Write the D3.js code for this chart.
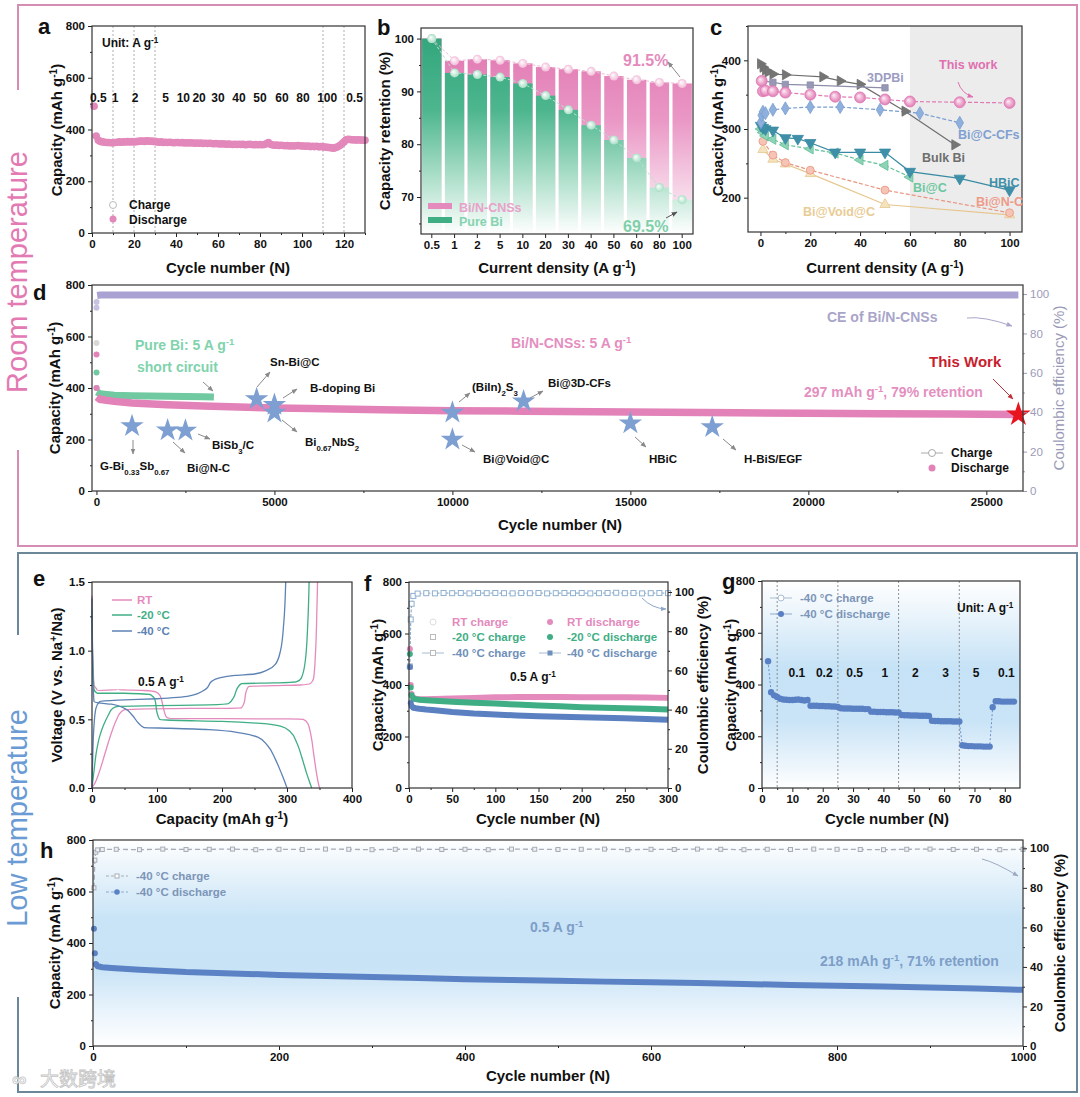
<!DOCTYPE html>
<html lang="en">
<head>
<meta charset="UTF-8">
<title>Bi/N-CNSs rate and cycling</title>
<script src="https://d3js.org/d3.v7.min.js"></script>
<style>
body { margin: 0; background: #fff; }
svg { font-family: "Liberation Sans", Arial, sans-serif; }
.tick text { font-size: 11.5px; font-weight: bold; fill: #111; font-family: "Liberation Sans", Arial, sans-serif; }
.tick line { stroke: #222; }
</style>
</head>
<body>
<script>
// ---------------- data ----------------
// a: rate test, room temperature
var aRates = ["0.5", "1", "2", "5", "10", "20", "30", "40", "50", "60", "80", "100", "0.5"];
var aRatePos = [3, 11, 20.5, 35, 43.5, 51, 60, 70, 80, 90.5, 100.5, 112, 125];
var aSwitch = [10, 20, 30, 110, 120];
var aDischarge = [
  490, 375, 358, 354, 352, 351, 350, 350, 349, 349,
  350, 351, 352, 351, 352, 352, 353, 352, 353, 352,
  353, 354, 355, 355, 354, 356, 355, 355, 354, 354,
  352, 351, 352, 350, 351, 350, 351, 350, 349, 350,
  350, 349, 350, 348, 349, 348, 349, 348, 347, 348,
  347, 348, 346, 347, 346, 347, 346, 345, 346, 345,
  344, 345, 344, 343, 344, 343, 342, 343, 342, 343,
  342, 343, 341, 342, 343, 342, 341, 342, 341, 342,
  341, 342, 345, 350, 343, 340, 339, 340, 338, 339,
  338, 337, 338, 336, 337, 336, 337, 338, 337, 336,
  336, 335, 336, 334, 335, 334, 335, 333, 334, 333,
  332, 331, 330, 329, 328, 330, 333, 338, 345, 352,
  360, 362, 361, 360, 360, 359, 360, 359, 359, 358];
var aXTicks = [0, 20, 40, 60, 80, 100, 120];
var capTicks = [0, 200, 400, 600, 800];

// b: capacity retention
var bRates = ["0.5", "1", "2", "5", "10", "20", "30", "40", "50", "60", "80", "100"];
var bBiN = [100, 95.8, 96.1, 95.9, 95.3, 94.6, 94.2, 93.8, 92.9, 92.2, 91.7, 91.5];
var bPure = [100, 93.5, 93.2, 92.7, 91.5, 89.2, 86.5, 83.6, 80.8, 77.4, 71.8, 69.5];
var bYTicks = [70, 80, 90, 100];

// c: comparison with reported Bi anodes
var cThisWork = [[0.5, 370], [1, 355], [2, 356], [5, 355], [10, 353], [20, 350], [30, 347], [40, 346], [50, 343], [60, 340], [80, 339], [100, 338]];
var c3DPBi = [[1, 370], [5, 368], [10, 365], [20, 364], [50, 360]];
var cBulkBi = [[0, 395], [1, 390], [2, 386], [3, 383], [5, 380], [10, 379], [25, 376], [32, 370], [40, 365], [58, 326], [78, 277]];
var cBiCCFs = [[0.2, 310], [0.5, 320], [1, 325], [2, 323], [5, 328], [10, 330], [20, 332], [32, 332], [48, 328], [64, 323], [80, 309]];
var cHBiC = [[0.2, 305], [1, 302], [2, 300], [5, 298], [10, 287], [15, 286], [20, 280], [30, 266], [40, 266], [50, 266], [60, 238], [80, 228], [100, 211]];
var cBiC = [[0.2, 300], [1, 295], [2, 290], [5, 285], [10, 277], [20, 271], [30, 265], [40, 255], [50, 247], [60, 230]];
var cBiNC = [[1, 282], [5, 262], [10, 251], [20, 240], [50, 211], [100, 178]];
var cVoid = [[1, 270], [5, 256], [10, 249], [20, 235], [50, 190], [100, 175]];
var cXTicks = [0, 20, 40, 60, 80, 100];
var cYTicks = [200, 300, 400];

// d: long cycling at 5 A/g
var dCycle = [1, 3, 10, 100, 500, 1000, 2000, 3000, 4000, 5000, 6000, 8000, 10000, 12000, 14000, 16000, 18000, 20000, 22000, 24000, 25900];
var dBiN = [530, 400, 365, 356, 348, 342, 335, 330, 326, 322, 320, 316, 312, 310, 308, 306, 304, 302, 300, 299, 297];
var dPureCycle = [1, 3, 10, 100, 500, 1000, 2000, 3000, 3300];
var dPure = [460, 400, 385, 378, 372, 370, 368, 366, 365];
var dCECycle = [1, 3, 20, 100, 5000, 10000, 15000, 20000, 25900];
var dCE = [93, 96, 99.3, 99.5, 99.5, 99.5, 99.5, 99.5, 99.5];
var dCharge1 = 575;
var dStarNames = ["G-Bi_{0.33}Sb_{0.67}", "Bi@N-C", "BiSb_{3}/C", "Sn-Bi@C", "B-doping Bi", "Bi_{0.67}NbS_{2}", "(BiIn)_{2}S_{3}", "Bi@Void@C", "Bi@3D-CFs", "HBiC", "H-BiS/EGF"];
var dStarCycle = [1000, 2000, 2500, 4500, 5000, 5000, 10000, 10000, 12000, 15000, 17300];
var dStarCap = [252, 236, 235, 357, 335, 305, 305, 200, 348, 263, 248];
var dXTicks = [0, 5000, 10000, 15000, 20000, 25000];
var ceTicks = [0, 20, 40, 60, 80, 100];

// e: charge/discharge profiles [capacity, voltage]
var eRTCharge = [[0, 0], [5, 0.04], [10, 0.1], [18, 0.22], [25, 0.33], [32, 0.43], [38, 0.5], [44, 0.55], [50, 0.57], [70, 0.575], [150, 0.58], [200, 0.58], [230, 0.585], [234, 0.62], [237, 0.7], [241, 0.74], [280, 0.745], [320, 0.75], [336, 0.76], [341, 0.8], [344, 1.0], [346, 1.3], [347, 1.5]];
var eRTDischarge = [[0, 1.4], [1, 1.0], [3, 0.75], [8, 0.71], [40, 0.715], [80, 0.71], [98, 0.7], [105, 0.67], [110, 0.58], [114, 0.52], [120, 0.505], [200, 0.505], [300, 0.503], [325, 0.5], [332, 0.47], [337, 0.38], [341, 0.25], [345, 0.12], [348, 0.04], [350, 0]];
var e20Charge = [[0, 0], [3, 0.12], [7, 0.27], [12, 0.38], [18, 0.46], [25, 0.53], [32, 0.58], [40, 0.595], [100, 0.6], [180, 0.605], [210, 0.615], [218, 0.66], [224, 0.73], [230, 0.76], [280, 0.765], [315, 0.775], [322, 0.8], [328, 0.92], [332, 1.2], [334, 1.5]];
var e20Discharge = [[0, 1.3], [1, 0.95], [3, 0.72], [8, 0.69], [50, 0.69], [90, 0.68], [97, 0.64], [100, 0.55], [104, 0.5], [115, 0.495], [200, 0.485], [260, 0.47], [290, 0.45], [305, 0.41], [315, 0.33], [323, 0.22], [330, 0.11], [335, 0.04], [338, 0]];
var e40Charge = [[0, 0], [1, 0.2], [3, 0.45], [6, 0.58], [12, 0.63], [40, 0.64], [100, 0.65], [150, 0.67], [175, 0.72], [185, 0.78], [195, 0.8], [220, 0.82], [250, 0.83], [270, 0.86], [282, 0.9], [290, 1.0], [295, 1.2], [298, 1.5]];
var e40Discharge = [[0, 1.38], [1, 0.9], [3, 0.63], [10, 0.62], [30, 0.61], [50, 0.58], [62, 0.53], [72, 0.47], [80, 0.44], [120, 0.435], [180, 0.425], [230, 0.4], [255, 0.37], [270, 0.31], [282, 0.21], [292, 0.1], [297, 0.04], [300, 0]];
var eXTicks = [0, 100, 200, 300, 400];
var eYTicks = [0, 0.5, 1.0, 1.5];

// f: cycling at 0.5 A/g, three temperatures
var fCycle = [1, 2, 3, 5, 8, 12, 20, 30, 50, 75, 100, 125, 150, 175, 200, 225, 250, 275, 300];
var fRT = [540, 400, 365, 350, 346, 345, 345, 346, 348, 350, 352, 353, 353, 353, 352, 352, 352, 351, 350];
var fM20 = [520, 390, 360, 348, 345, 343, 341, 339, 335, 331, 328, 324, 320, 317, 314, 312, 310, 308, 305];
var fM40 = [470, 330, 318, 312, 310, 308, 305, 302, 295, 289, 285, 282, 279, 277, 275, 273, 271, 268, 265];
var fCECycle = [1, 2, 3, 5, 10, 20, 30, 40, 50, 60, 70, 80, 90, 100, 110, 120, 130, 140, 150, 160, 170, 180, 190, 200, 210, 220, 230, 240, 250, 260, 270, 280, 290, 300];
var fCE = [62, 86, 94, 98, 99.2, 99.4, 99.3, 99.5, 99.4, 99.5, 99.3, 99.5, 99.4, 99.5, 99.4, 99.3, 99.5, 99.4, 99.5, 99.3, 99.4, 99.5, 99.4, 99.5, 99.3, 99.4, 99.5, 99.6, 99.4, 99.5, 99.3, 99.4, 99.5, 99.4];
var fXTicks = [0, 50, 100, 150, 200, 250, 300];

// g: rate test at -40 C (values from cycle 2)
var gStart = 2;
var gDischarge = [
  490, 370, 358, 352, 345, 342, 341, 340, 340, 341, 342, 340, 338, 340,
  318, 318, 318, 317, 317, 316, 316, 315, 315, 313,
  308, 307, 307, 307, 306, 306, 306, 306, 305, 305,
  295, 295, 294, 294, 294, 293, 293, 293, 292, 292,
  282, 281, 281, 280, 280, 280, 279, 279, 279, 278,
  260, 259, 259, 258, 258, 258, 258, 257, 257, 257,
  165, 163, 162, 162, 161, 161, 161, 160, 160, 160,
  312, 335, 335, 334, 334, 334, 334, 334];
var gRates = ["0.1", "0.2", "0.5", "1", "2", "3", "5", "0.1"];
var gRatePos = [11.5, 20.5, 30.5, 40.5, 50.5, 60.5, 70.5, 80.5];
var gSwitch = [5, 25, 45, 65];
var gXTicks = [0, 10, 20, 30, 40, 50, 60, 70, 80];

// h: long cycling at -40 C
var hCycle = [1, 2, 3, 5, 10, 20, 50, 100, 150, 200, 250, 300, 350, 400, 450, 500, 550, 600, 650, 700, 750, 800, 850, 900, 950, 1000];
var hDischarge = [455, 360, 318, 310, 306, 303, 296, 287, 282, 276, 272, 268, 264, 259, 256, 253, 250, 248, 245, 241, 237, 234, 231, 227, 223, 218];
var hCECycle = [1, 2, 3, 5, 10, 25, 50, 75, 100, 125, 150, 175, 200, 225, 250, 275, 300, 325, 350, 375, 400, 425, 450, 475, 500, 525, 550, 575, 600, 625, 650, 675, 700, 725, 750, 775, 800, 825, 850, 875, 900, 925, 950, 975, 1000];
var hCE = [80, 94, 98, 99.2, 99.4, 99.5, 99.3, 99.6, 99.4, 99.5, 99.6, 99.3, 99.5, 99.4, 99.6, 99.5, 99.3, 99.5, 99.6, 99.4, 99.5, 99.3, 99.6, 99.5, 99.4, 99.5, 99.6, 99.3, 99.5, 99.4, 99.6, 99.5, 99.3, 99.5, 99.4, 99.6, 99.5, 99.4, 99.3, 99.5, 99.6, 99.4, 99.5, 99.3, 99.5];
var hXTicks = [0, 200, 400, 600, 800, 1000];

// ---------------- helpers ----------------
var svg = d3.select("body").append("svg").attr("width", 1080).attr("height", 1097);
var defs = svg.append("defs");
var PINK = "#e388bb", GREEN = "#3fae85", BLUE40 = "#5d82b4";

function linGrad(id, stops, y1, y2) {
  var lg = defs.append("linearGradient").attr("id", id).attr("gradientUnits", "userSpaceOnUse")
    .attr("x1", 0).attr("x2", 0).attr("y1", y1).attr("y2", y2);
  stops.forEach(function (s) { lg.append("stop").attr("offset", s[0]).attr("stop-color", s[1]); });
}
function sphere(id, c0, c1) {
  var rg = defs.append("radialGradient").attr("id", id).attr("fx", "35%").attr("fy", "35%");
  rg.append("stop").attr("offset", "0%").attr("stop-color", c0);
  rg.append("stop").attr("offset", "100%").attr("stop-color", c1);
}
sphere("sphPink", "#fff0f7", "#e07ab4");
sphere("sphPinkL", "#ffffff", "#f2bcd9");
sphere("sphGreenL", "#ffffff", "#a7dfc5");

function rich(t, s) {
  s.split(/(\^\{[^}]*\}|_\{[^}]*\})/).forEach(function (p) {
    if (!p) return;
    if (p.slice(0, 2) == "^{") t.append("tspan").attr("baseline-shift", "super").style("font-size", "68%").text(p.slice(2, -1));
    else if (p.slice(0, 2) == "_{") t.append("tspan").attr("baseline-shift", "sub").style("font-size", "68%").text(p.slice(2, -1));
    else t.append("tspan").text(p);
  });
  return t;
}
function txt(x, y, s, o) {
  o = o || {};
  var t = svg.append("text").attr("x", x).attr("y", y)
    .attr("font-size", o.size || 12).attr("font-weight", o.weight || "bold")
    .attr("fill", o.color || "#111").attr("text-anchor", o.anchor || "start");
  if (o.rot) t.attr("transform", "rotate(-90," + x + "," + y + ")");
  return rich(t, s);
}
var heads = {};
function head(c) {
  if (!heads[c]) {
    var id = "ah" + Object.keys(heads).length;
    defs.append("marker").attr("id", id).attr("viewBox", "0 0 10 10").attr("refX", 9).attr("refY", 5)
      .attr("markerWidth", 6).attr("markerHeight", 6).attr("orient", "auto")
      .append("path").attr("d", "M0,1L10,5L0,9z").attr("fill", c);
    heads[c] = id;
  }
  return heads[c];
}
function arrow(x1, y1, x2, y2, c, bend) {
  var d = "M" + x1 + "," + y1 + "L" + x2 + "," + y2;
  if (bend) d = "M" + x1 + "," + y1 + "Q" + ((x1 + x2) / 2 + bend[0]) + "," + ((y1 + y2) / 2 + bend[1]) + " " + x2 + "," + y2;
  svg.append("path").attr("d", d).attr("fill", "none").attr("stroke", c || "#8a8a8a").attr("stroke-width", 1)
    .attr("marker-end", "url(#" + head(c || "#8a8a8a") + ")");
}
function panel(L, T, R, B, xs, ys) {
  return { L: L, T: T, R: R, B: B, x: xs.range([L, R]), y: ys.range([B, T]), g: svg.append("g") };
}
function minor(ticks) {
  var m = [];
  for (var i = 0; i < ticks.length - 1; i++) m.push((ticks[i] + ticks[i + 1]) / 2);
  return m;
}
function axes(p, o) {
  var g = p.g.append("g");
  function put(axis, tr) { var a = g.append("g").attr("transform", tr).call(axis); a.select(".domain").remove(); return a; }
  var bt = "translate(0," + p.B + ")", lt = "translate(" + p.L + ",0)";
  put(d3.axisBottom(p.x).tickValues(o.xt).tickSize(4).tickFormat(o.xf || d3.format("d")), bt);
  if (o.xm) put(d3.axisBottom(p.x).tickValues(o.xm).tickSize(2).tickFormat(""), bt);
  put(d3.axisLeft(p.y).tickValues(o.yt).tickSize(4).tickFormat(o.yf || d3.format("d")), lt);
  if (o.ym) put(d3.axisLeft(p.y).tickValues(o.ym).tickSize(2).tickFormat(""), lt);
  if (o.y2) {
    var rt = "translate(" + p.R + ",0)";
    var a2 = put(d3.axisRight(o.y2).tickValues(ceTicks).tickSize(4).tickFormat(d3.format("d")), rt);
    var a3 = put(d3.axisRight(o.y2).tickValues(minor(ceTicks)).tickSize(2).tickFormat(""), rt);
    if (o.y2c) {
      a2.selectAll("text").style("fill", o.y2c).style("font-weight", "normal");
      a2.selectAll("line").style("stroke", o.y2c); a3.selectAll("line").style("stroke", o.y2c);
    }
  }
  g.append("rect").attr("x", p.L).attr("y", p.T).attr("width", p.R - p.L).attr("height", p.B - p.T)
    .attr("fill", "none").attr("stroke", "#333").attr("stroke-width", 1.2);
}
function lineOf(p, xa, ya, yScale) {
  var ys = yScale || p.y;
  return d3.line().x(function (d, i) { return p.x(xa[i]); }).y(function (d) { return ys(d); })(ya);
}

// ---------------- frames ----------------
svg.append("path").attr("d", "M18,90V5H1077V546H18V450").attr("fill", "none").attr("stroke", "#d68db3").attr("stroke-width", 2);
svg.append("path").attr("d", "M18,635V553H1077V1092H18V997").attr("fill", "none").attr("stroke", "#6b8799").attr("stroke-width", 2);
txt(27, 272, "Room temperature", { size: 29, weight: "normal", color: "#e37ab3", anchor: "middle", rot: true });
txt(27, 818, "Low temperature", { size: 29, weight: "normal", color: "#6a9bd4", anchor: "middle", rot: true });

// ---------------- a ----------------
var pa = panel(92, 26, 365, 233, d3.scaleLinear().domain([0, 130]), d3.scaleLinear().domain([0, 800]));
pa.g.selectAll(null).data(aSwitch).enter().append("line")
  .attr("x1", function (d) { return pa.x(d); }).attr("x2", function (d) { return pa.x(d); })
  .attr("y1", pa.T).attr("y2", pa.B).attr("stroke", "#999").attr("stroke-width", 0.8).attr("stroke-dasharray", "2,2");
pa.g.selectAll(null).data(aDischarge).enter().append("circle")
  .attr("cx", function (d, i) { return pa.x(i + 1); }).attr("cy", function (d) { return pa.y(d); })
  .attr("r", 3.8).attr("fill", PINK);
axes(pa, { xt: aXTicks, xm: minor(aXTicks).concat([130]), yt: capTicks, ym: minor(capTicks) });
aRates.forEach(function (r, i) { txt(pa.x(aRatePos[i]), 102, r, { anchor: "middle" }); });
txt(102, 47, "Unit: A g^{-1}");
pa.g.append("circle").attr("cx", 113).attr("cy", 205).attr("r", 3.5).attr("fill", "#fff").attr("stroke", "#bbb");
pa.g.append("circle").attr("cx", 113).attr("cy", 219).attr("r", 3.5).attr("fill", PINK);
txt(129, 209, "Charge"); txt(129, 224, "Discharge");
txt(38, 34, "a", { size: 22 });
txt(62, 130, "Capacity (mAh g^{-1})", { size: 15, anchor: "middle", rot: true });
txt(228, 273, "Cycle number (N)", { size: 15, anchor: "middle" });

// ---------------- b ----------------
var pb = panel(421, 28, 693, 234, d3.scaleBand().domain(bRates).paddingInner(0.15).paddingOuter(0.05), d3.scaleLinear().domain([63, 102]));
linGrad("gPinkBar", [[0, "#df72ae"], [0.45, "#ea98c6"], [0.8, "#f7d8e9"], [1, "#fdf5f9"]], pb.T, pb.B);
linGrad("gGreenBar", [[0, "#2fa47a"], [0.4, "#4db68f"], [0.75, "#b4e2cf"], [1, "#ffffff"]], pb.T, pb.B);
function bars(vals, fill) {
  pb.g.selectAll(null).data(vals).enter().append("rect")
    .attr("x", function (d, i) { return pb.x(bRates[i]); }).attr("width", pb.x.bandwidth())
    .attr("y", function (d) { return pb.y(d); }).attr("height", function (d) { return pb.B - pb.y(d); })
    .attr("fill", fill);
}
bars(bBiN, "url(#gPinkBar)");
bars(bPure, "url(#gGreenBar)");
function bdots(vals, fill, stroke) {
  var cx = function (d, i) { return pb.x(bRates[i]) + pb.x.bandwidth() / 2; };
  pb.g.append("path").attr("d", d3.line().x(cx).y(function (d) { return pb.y(d); })(vals))
    .attr("fill", "none").attr("stroke", stroke).attr("stroke-width", 1).attr("stroke-dasharray", "3,2");
  pb.g.selectAll(null).data(vals).enter().append("circle").attr("cx", cx).attr("cy", function (d) { return pb.y(d); })
    .attr("r", 4.5).attr("fill", fill);
}
bdots(bBiN, "url(#sphPinkL)", "#eeb9d6");
bdots(bPure, "url(#sphGreenL)", "#b6e2cf");
axes(pb, { xt: bRates, xf: function (d) { return d; }, yt: bYTicks, ym: [65, 75, 85, 95] });
pb.g.append("rect").attr("x", 428).attr("y", 203).attr("width", 24).attr("height", 6).attr("fill", "#e48abd");
pb.g.append("rect").attr("x", 428).attr("y", 217).attr("width", 24).attr("height", 6).attr("fill", "#3fae85");
txt(459, 212, "Bi/N-CNSs", { color: "#e8a2c9", size: 12.5 });
txt(459, 226, "Pure Bi", { color: "#86d3b0", size: 12.5 });
txt(623, 66, "91.5%", { color: "#e48abd", size: 16 });
arrow(680, 77, 668, 62, "#8a8a8a");
txt(623, 232, "69.5%", { color: "#7fcfaa", size: 16 });
arrow(666, 218, 677, 212, "#555");
txt(377, 35, "b", { size: 22 });
txt(390, 131, "Capacity retention (%)", { size: 15, anchor: "middle", rot: true });
txt(557, 273, "Current density (A g^{-1})", { size: 15, anchor: "middle" });

// ---------------- c ----------------
var pc = panel(748, 26, 1022, 232, d3.scaleLinear().domain([-5, 105]), d3.scaleLinear().domain([150, 450]));
pc.g.append("rect").attr("x", pc.x(60)).attr("y", pc.T).attr("width", pc.R - pc.x(60)).attr("height", pc.B - pc.T).attr("fill", "#ececec");
var cSeries = [
  { pts: cVoid, color: "#e6c68d", fill: "#f5e3c0", type: d3.symbolTriangle, rot: 0, size: 45, dash: null },
  { pts: cBiNC, color: "#e8957f", fill: "#f6c4b6", type: d3.symbolCircle, rot: 0, size: 50, dash: "4,2" },
  { pts: cBiC, color: "#5fbf98", fill: "#8fd3b6", type: d3.symbolTriangle, rot: -90, size: 45, dash: "4,2" },
  { pts: cHBiC, color: "#3a8aa3", fill: "#3f8fa8", type: d3.symbolTriangle, rot: 180, size: 55, dash: null },
  { pts: cBiCCFs, color: "#7b9fd0", fill: "#8fb0dc", type: d3.symbolDiamond, rot: 0, size: 50, dash: "4,2" },
  { pts: cBulkBi, color: "#6e6e6e", fill: "#757575", type: d3.symbolTriangle, rot: 90, size: 45, dash: null },
  { pts: c3DPBi, color: "#8d8daa", fill: "#9898b6", type: d3.symbolSquare, rot: 0, size: 40, dash: null },
  { pts: cThisWork, color: "#e07ab4", fill: "url(#sphPink)", type: d3.symbolCircle, rot: 0, size: 95, dash: "4,2" }
];
cSeries.forEach(function (s) {
  pc.g.append("path").attr("d", d3.line().x(function (d) { return pc.x(d[0]); }).y(function (d) { return pc.y(d[1]); })(s.pts))
    .attr("fill", "none").attr("stroke", s.color).attr("stroke-width", 1.2).attr("stroke-dasharray", s.dash);
  pc.g.selectAll(null).data(s.pts).enter().append("path")
    .attr("d", d3.symbol().type(s.type).size(s.size)())
    .attr("transform", function (d) { return "translate(" + pc.x(d[0]) + "," + pc.y(d[1]) + ") rotate(" + s.rot + ")"; })
    .attr("fill", s.fill).attr("stroke", s.color).attr("stroke-width", 0.8);
});
axes(pc, { xt: cXTicks, xm: minor(cXTicks), yt: cYTicks, ym: [250, 350, 450] });
txt(867, 82, "3DPBi", { color: "#9c9cc2", size: 12.5 });
txt(939, 69, "This work", { color: "#e070b0", size: 12.5 });
arrow(958, 82, 973, 97, "#e070b0", [-4, 4]);
txt(958, 139, "Bi@C-CFs", { color: "#7fa0d0", size: 12.5 });
txt(922, 162, "Bulk Bi", { color: "#6e6e6e", size: 12.5 });
txt(989, 187, "HBiC", { color: "#3f8fa8", size: 12.5 });
txt(913, 192, "Bi@C", { color: "#6cc8a0", size: 12.5 });
txt(976, 206, "Bi@N-C", { color: "#ee9a88", size: 12.5 });
txt(803, 216, "Bi@Void@C", { color: "#e8cc94", size: 12.5 });
txt(710, 35, "c", { size: 22 });
txt(723, 130, "Capacity (mAh g^{-1})", { size: 15, anchor: "middle", rot: true });
txt(885, 273, "Current density (A g^{-1})", { size: 15, anchor: "middle" });

// ---------------- d ----------------
var pd = panel(92, 285, 1023, 491, d3.scaleLinear().domain([-125, 26030]), d3.scaleLinear().domain([0, 800]));
var dCEy = d3.scaleLinear().domain([0, 104.6]).range([491, 285]);
pd.g.append("path").attr("d", lineOf(pd, dCECycle.slice(2), dCE.slice(2), dCEy)).attr("fill", "none")
  .attr("stroke", "#aaa2d2").attr("stroke-width", 7);
pd.g.selectAll(null).data(dCE.slice(0, 2)).enter().append("circle")
  .attr("cx", function (d, i) { return pd.x(dCECycle[i]); }).attr("cy", function (d) { return dCEy(d); })
  .attr("r", 3).attr("fill", "#c8c2e2");
pd.g.append("circle").attr("cx", pd.x(1)).attr("cy", pd.y(dCharge1)).attr("r", 3).attr("fill", "#d8d8d8");
pd.g.append("path").attr("d", lineOf(pd, dPureCycle.slice(2), dPure.slice(2))).attr("fill", "none")
  .attr("stroke", "#70c9a0").attr("stroke-width", 7);
pd.g.selectAll(null).data(dPure.slice(0, 2)).enter().append("circle")
  .attr("cx", function (d, i) { return pd.x(dPureCycle[i]); }).attr("cy", function (d) { return pd.y(d); })
  .attr("r", 3).attr("fill", "#70c9a0");
pd.g.append("path").attr("d", lineOf(pd, dCycle.slice(2), dBiN.slice(2))).attr("fill", "none")
  .attr("stroke", "#e282b8").attr("stroke-width", 7.5);
pd.g.selectAll(null).data(dBiN.slice(0, 2)).enter().append("circle")
  .attr("cx", function (d, i) { return pd.x(dCycle[i]); }).attr("cy", function (d) { return pd.y(d); })
  .attr("r", 3).attr("fill", "#e282b8");
pd.g.selectAll(null).data(dStarCap).enter().append("path")
  .attr("d", d3.symbol().type(d3.symbolStar).size(170)())
  .attr("transform", function (d, i) { return "translate(" + pd.x(dStarCycle[i]) + "," + pd.y(d) + ")"; })
  .attr("fill", "#7e9fd1");
pd.g.append("path").attr("d", d3.symbol().type(d3.symbolStar).size(190)())
  .attr("transform", "translate(" + pd.x(dCycle[dCycle.length - 1]) + "," + pd.y(dBiN[dBiN.length - 1]) + ")")
  .attr("fill", "#e8141e");
axes(pd, { xt: dXTicks, xm: minor(dXTicks), yt: capTicks, ym: minor(capTicks), y2: dCEy, y2c: "#9b9bb8" });
// star labels: [text x, baseline, arrow x1, y1, x2, y2]
var dStarLayout = [
  [100, 470, 133, 440, 133, 454], [187, 472, 173, 442, 185, 453], [212, 449, 198, 434, 210, 439],
  [270, 366, 257, 387, 270, 372], [310, 392, 283, 398, 297, 389], [305, 446, 282, 420, 297, 432],
  [472, 391, 459, 402, 470, 393], [483, 463, 462, 445, 475, 452], [548, 387, 530, 398, 543, 391],
  [649, 463, 635, 437, 646, 447], [744, 463, 723, 439, 736, 450]];
dStarNames.forEach(function (n, i) {
  var l = dStarLayout[i];
  txt(l[0], l[1], n, { size: 11.5 });
  arrow(l[2], l[3], l[4], l[5], "#8a8a8a");
});
txt(135, 350, "Pure Bi: 5 A g^{-1}", { size: 14, color: "#80d3ac" });
txt(137, 372, "short circuit", { size: 14, color: "#80d3ac" });
arrow(203, 382, 213, 391, "#8a8a8a");
txt(511, 348, "Bi/N-CNSs: 5 A g^{-1}", { size: 14, color: "#e48fc0" });
txt(827, 322, "CE of Bi/N-CNSs", { size: 14, color: "#a9a5c9" });
arrow(967, 318, 1012, 326, "#a9a5c9", [-6, -6]);
txt(929, 367, "This Work", { size: 15, color: "#c81e2e" });
arrow(993, 379, 1013, 399, "#c0303a");
txt(804, 397, "297 mAh g^{-1}, 79% retention", { size: 14, color: "#e48fc0" });
pd.g.append("line").attr("x1", 921).attr("x2", 943).attr("y1", 453).attr("y2", 453).attr("stroke", "#aaa");
pd.g.append("circle").attr("cx", 932).attr("cy", 453).attr("r", 3.5).attr("fill", "#fff").attr("stroke", "#aaa");
pd.g.append("circle").attr("cx", 932).attr("cy", 468).attr("r", 3.5).attr("fill", "#e282b8");
txt(951, 457, "Charge"); txt(951, 472, "Discharge");
txt(33, 300, "d", { size: 22 });
txt(60, 388, "Capacity (mAh g^{-1})", { size: 15, anchor: "middle", rot: true });
txt(1064, 388, "Coulombic efficiency (%)", { size: 15, anchor: "middle", rot: true, weight: "normal", color: "#9b9bb8" });
txt(560, 530, "Cycle number (N)", { size: 15, anchor: "middle" });

// ---------------- e ----------------
var pe = panel(92, 582, 352, 788, d3.scaleLinear().domain([0, 400]), d3.scaleLinear().domain([0, 1.5]));
var eCurves = [[eRTCharge, "#e48abd"], [eRTDischarge, "#e48abd"], [e20Charge, "#3fae85"], [e20Discharge, "#3fae85"], [e40Charge, BLUE40], [e40Discharge, BLUE40]];
eCurves.forEach(function (c) {
  pe.g.append("path").attr("d", d3.line().x(function (d) { return pe.x(d[0]); }).y(function (d) { return pe.y(d[1]); }).curve(d3.curveMonotoneY)(c[0]))
    .attr("fill", "none").attr("stroke", c[1]).attr("stroke-width", 1.3);
});
axes(pe, { xt: eXTicks, xm: minor(eXTicks), yt: eYTicks, ym: minor(eYTicks), yf: d3.format(".1f") });
[["RT", "#e48abd", 600], ["-20 \u00b0C", "#3fae85", 615], ["-40 \u00b0C", BLUE40, 631]].forEach(function (l) {
  pe.g.append("line").attr("x1", 112).attr("x2", 132).attr("y1", l[2]).attr("y2", l[2]).attr("stroke", l[1]).attr("stroke-width", 1.5);
  txt(137, l[2] + 4, l[0], { color: l[1], size: 11.5 });
});
txt(138, 686, "0.5 A g^{-1}", { size: 12 });
txt(33, 586, "e", { size: 22 });
txt(62, 685, "Voltage (V vs. Na^{+}/Na)", { size: 15, anchor: "middle", rot: true });
txt(222, 824, "Capacity (mAh g^{-1})", { size: 15, anchor: "middle" });

// ---------------- f ----------------
var pf = panel(409, 582, 668, 788, d3.scaleLinear().domain([0, 300]), d3.scaleLinear().domain([0, 800]));
var fCEy = d3.scaleLinear().domain([0, 105.1]).range([788, 582]);
pf.g.append("path").attr("d", lineOf(pf, fCECycle, fCE, fCEy)).attr("fill", "none").attr("stroke", "#8fb0cf").attr("stroke-width", 1.2).attr("stroke-dasharray", "3,1.5");
pf.g.selectAll(null).data(fCE).enter().append("rect")
  .attr("x", function (d, i) { return pf.x(fCECycle[i]) - 2.5; }).attr("y", function (d) { return fCEy(d) - 2.5; })
  .attr("width", 5).attr("height", 5).attr("fill", "#fff").attr("stroke", "#8fb0cf");
[[fRT, "#e48abd"], [fM20, "#3fae85"], [fM40, "#5b80c2"]].forEach(function (s) {
  pf.g.append("path").attr("d", lineOf(pf, fCycle.slice(3), s[0].slice(3))).attr("fill", "none").attr("stroke", s[1]).attr("stroke-width", 6);
  pf.g.selectAll(null).data(s[0].slice(0, 4)).enter().append("circle")
    .attr("cx", function (d, i) { return pf.x(fCycle[i]); }).attr("cy", function (d) { return pf.y(d); })
    .attr("r", 3).attr("fill", s[1]);
});
axes(pf, { xt: fXTicks, xm: minor(fXTicks), yt: capTicks, ym: minor(capTicks), y2: fCEy });
var fLeg = [
  ["RT charge", "#e48abd", 433, 452, 622, "oc"], ["RT discharge", "#e48abd", 550, 567, 622, "fc"],
  ["-20 \u00b0C charge", "#3fae85", 433, 452, 637, "os"], ["-20 \u00b0C discharge", "#3fae85", 550, 567, 637, "fc"],
  ["-40 \u00b0C charge", "#6f90b8", 433, 452, 653, "ls"], ["-40 \u00b0C discharge", "#6f90b8", 550, 567, 653, "lf"]];
fLeg.forEach(function (l) {
  if (l[5][0] == "l") pf.g.append("line").attr("x1", l[2] - 11).attr("x2", l[2] + 11).attr("y1", l[4]).attr("y2", l[4]).attr("stroke", "#a8bcd4");
  if (l[5] == "oc") pf.g.append("circle").attr("cx", l[2]).attr("cy", l[4]).attr("r", 3).attr("fill", "#fff").attr("stroke", "#ddd");
  if (l[5] == "fc") pf.g.append("circle").attr("cx", l[2]).attr("cy", l[4]).attr("r", 3).attr("fill", l[1]);
  if (l[5] == "os" || l[5] == "ls") pf.g.append("rect").attr("x", l[2] - 2.5).attr("y", l[4] - 2.5).attr("width", 5).attr("height", 5).attr("fill", "#fff").attr("stroke", "#bbb");
  if (l[5] == "lf") pf.g.append("rect").attr("x", l[2] - 2.5).attr("y", l[4] - 2.5).attr("width", 5).attr("height", 5).attr("fill", l[1]);
  txt(l[3], l[4] + 4, l[0], { color: l[1], size: 11.5 });
});
txt(510, 681, "0.5 A g^{-1}", { size: 12 });
arrow(642, 598, 666, 609, "#8fa8c8", [-2, 5]);
txt(364, 591, "f", { size: 22 });
txt(383, 685, "Capacity (mAh g^{-1})", { size: 15, anchor: "middle", rot: true });
txt(708, 685, "Coulombic efficiency (%)", { size: 15, anchor: "middle", rot: true });
txt(538, 824, "Cycle number (N)", { size: 15, anchor: "middle" });

// ---------------- g ----------------
var pg = panel(762, 581, 1020, 788, d3.scaleLinear().domain([0, 85]), d3.scaleLinear().domain([0, 800]));
linGrad("gBlueG", [[0, "#ffffff"], [0.18, "#e8f3fb"], [0.42, "#c6e2f6"], [0.68, "#cae4f7"], [0.9, "#eef6fc"], [1, "#ffffff"]], 581, 788);
pg.g.append("rect").attr("x", pg.L).attr("y", pg.T).attr("width", pg.R - pg.L).attr("height", pg.B - pg.T).attr("fill", "url(#gBlueG)");
pg.g.selectAll(null).data(gSwitch).enter().append("line")
  .attr("x1", function (d) { return pg.x(d); }).attr("x2", function (d) { return pg.x(d); })
  .attr("y1", pg.T).attr("y2", pg.B).attr("stroke", "#777").attr("stroke-width", 0.8).attr("stroke-dasharray", "2,2");
var gx = function (d, i) { return pg.x(i + gStart); };
pg.g.append("path").attr("d", d3.line().x(gx).y(function (d) { return pg.y(d); })(gDischarge))
  .attr("fill", "none").attr("stroke", "#6a8fc8").attr("stroke-width", 1).attr("stroke-dasharray", "2,2");
pg.g.selectAll(null).data(gDischarge).enter().append("circle").attr("cx", gx).attr("cy", function (d) { return pg.y(d); })
  .attr("r", 3.2).attr("fill", "#5a80c4");
axes(pg, { xt: gXTicks, xm: minor(gXTicks), yt: capTicks, ym: minor(capTicks) });
gRates.forEach(function (r, i) { txt(pg.x(gRatePos[i]), 677, r, { anchor: "middle" }); });
txt(957, 612, "Unit: A g^{-1}");
pg.g.append("line").attr("x1", 770).attr("x2", 792).attr("y1", 598).attr("y2", 598).attr("stroke", "#a8bcd4");
pg.g.append("circle").attr("cx", 781).attr("cy", 598).attr("r", 3).attr("fill", "#fff").attr("stroke", "#a8bcd4");
pg.g.append("line").attr("x1", 770).attr("x2", 792).attr("y1", 614).attr("y2", 614).attr("stroke", "#8fa9cf");
pg.g.append("circle").attr("cx", 781).attr("cy", 614).attr("r", 3).attr("fill", "#5a80c4");
txt(800, 602, "-40 \u00b0C charge", { color: "#7d95b8", size: 11.5 });
txt(800, 618, "-40 \u00b0C discharge", { color: "#7d95b8", size: 11.5 });
txt(722, 589, "g", { size: 22 });
txt(736, 685, "Capacity (mAh g^{-1})", { size: 15, anchor: "middle", rot: true });
txt(887, 824, "Cycle number (N)", { size: 15, anchor: "middle" });

// ---------------- h ----------------
var ph = panel(93, 840, 1023, 1046, d3.scaleLinear().domain([0, 1000]), d3.scaleLinear().domain([0, 800]));
var hCEy = d3.scaleLinear().domain([0, 104.2]).range([1046, 840]);
linGrad("gBlueH", [[0, "#ffffff"], [0.14, "#eaf4fb"], [0.38, "#c9e4f7"], [0.62, "#c8e3f6"], [0.85, "#ecf5fc"], [1, "#ffffff"]], 840, 1046);
ph.g.append("rect").attr("x", ph.L).attr("y", ph.T).attr("width", ph.R - ph.L).attr("height", ph.B - ph.T).attr("fill", "url(#gBlueH)");
ph.g.append("path").attr("d", lineOf(ph, hCECycle, hCE, hCEy)).attr("fill", "none").attr("stroke", "#a7adb6").attr("stroke-width", 1.3).attr("stroke-dasharray", "5,3");
ph.g.selectAll(null).data(hCE).enter().append("rect")
  .attr("x", function (d, i) { return ph.x(hCECycle[i]) - 2; }).attr("y", function (d) { return hCEy(d) - 2; })
  .attr("width", 4).attr("height", 4).attr("fill", "#eef0f3").attr("stroke", "#a7adb6");
ph.g.append("path").attr("d", lineOf(ph, hCycle.slice(2), hDischarge.slice(2))).attr("fill", "none").attr("stroke", "#5b82c4").attr("stroke-width", 6);
ph.g.selectAll(null).data(hDischarge.slice(0, 3)).enter().append("circle")
  .attr("cx", function (d, i) { return ph.x(hCycle[i]); }).attr("cy", function (d) { return ph.y(d); })
  .attr("r", 3).attr("fill", "#5b82c4");
axes(ph, { xt: hXTicks, xm: minor(hXTicks), yt: capTicks, ym: minor(capTicks), y2: hCEy });
ph.g.append("line").attr("x1", 106).attr("x2", 128).attr("y1", 876).attr("y2", 876).attr("stroke", "#a7adb6").attr("stroke-dasharray", "3,2");
ph.g.append("rect").attr("x", 115).attr("y", 874).attr("width", 4).attr("height", 4).attr("fill", "#fff").attr("stroke", "#a7adb6");
ph.g.append("line").attr("x1", 106).attr("x2", 128).attr("y1", 892).attr("y2", 892).attr("stroke", "#8fa9cf").attr("stroke-dasharray", "3,2");
ph.g.append("circle").attr("cx", 117).attr("cy", 892).attr("r", 2.8).attr("fill", "#5b82c4");
txt(136, 880, "-40 \u00b0C charge", { color: "#7d95b8", size: 11.5 });
txt(136, 896, "-40 \u00b0C discharge", { color: "#7d95b8", size: 11.5 });
txt(530, 932, "0.5 A g^{-1}", { size: 14, color: "#7e9ec8" });
txt(820, 966, "218 mAh g^{-1}, 71% retention", { size: 14, color: "#7e9ec8" });
arrow(982, 859, 1018, 876, "#9aaac0", [-4, -5]);
txt(40, 858, "h", { size: 22 });
txt(60, 943, "Capacity (mAh g^{-1})", { size: 15, anchor: "middle", rot: true });
txt(1065, 943, "Coulombic efficiency (%)", { size: 15, anchor: "middle", rot: true });
txt(548, 1081, "Cycle number (N)", { size: 15, anchor: "middle" });

// watermark
txt(12, 1086, "\u221e", { size: 20, color: "#fff" }).attr("stroke", "#c4c4c4").attr("stroke-width", 0.8);
txt(40, 1086, "\u5927\u6570\u8de8\u5883", { size: 19, color: "#fff", weight: "normal" })
  .attr("font-family", "Noto Sans CJK SC").attr("stroke", "#c4c4c4").attr("stroke-width", 0.8);
</script>
</body>
</html>
